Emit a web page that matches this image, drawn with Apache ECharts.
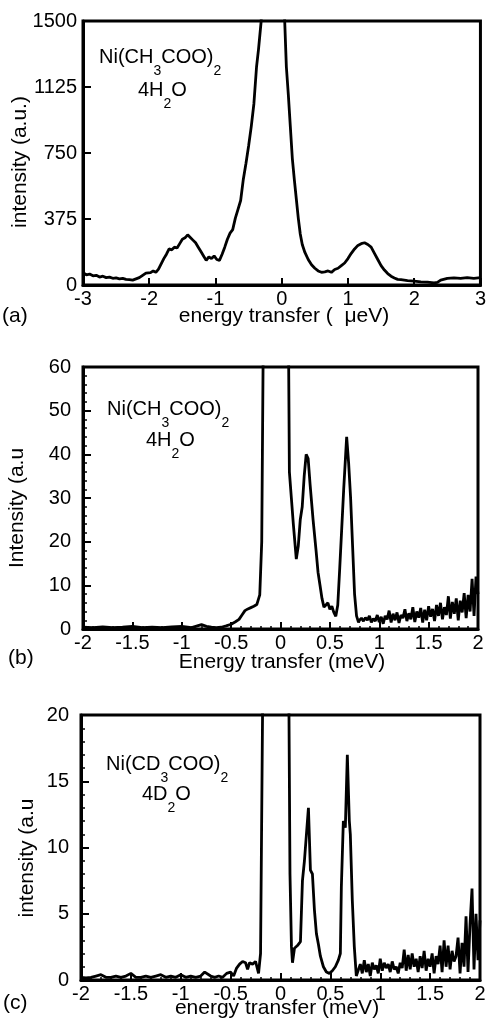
<!DOCTYPE html>
<html>
<head>
<meta charset="utf-8">
<script src="https://cdn.jsdelivr.net/npm/echarts@6/dist/echarts.min.js"></script>
<style>
html,body{margin:0;padding:0;background:#fff;}
#chart{width:489px;height:1019px;}
</style>
</head>
<body>
<div id="chart"></div>
<script>
// ---------- data ----------
// panel (a): energy transfer (µeV) vs intensity (a.u.)
var panelA_points = [
[-3.00,70],[-2.95,58],[-2.90,62],[-2.85,52],[-2.80,55],[-2.75,45],[-2.70,50],[-2.65,42],[-2.60,45],[-2.55,38],
[-2.50,40],[-2.45,35],[-2.40,38],[-2.35,32],[-2.30,30],[-2.25,28],[-2.20,35],[-2.15,42],[-2.10,55],[-2.05,68],
[-2.02,78],[-1.98,70],[-1.94,80],[-1.90,72],[-1.86,90],[-1.82,120],[-1.78,150],[-1.74,175],[-1.70,205],[-1.66,200],
[-1.62,215],[-1.58,210],[-1.54,235],[-1.50,260],[-1.46,268],[-1.42,285],[-1.38,270],[-1.34,255],[-1.30,240],[-1.26,215],
[-1.22,190],[-1.18,165],[-1.14,140],[-1.10,160],[-1.06,150],[-1.02,165],[-0.98,145],[-0.94,140],[-0.90,175],[-0.86,215],
[-0.82,260],[-0.78,295],[-0.74,315],[-0.70,380],[-0.66,430],[-0.62,480],[-0.58,600],[-0.54,690],[-0.50,790],[-0.46,900],
[-0.42,1030],[-0.38,1240],[-0.35,1340],[-0.31,1500],[-0.25,2100],[-0.15,2900],[-0.05,2700],[0.045,1500],[0.07,1240],[0.10,1080],
[0.13,900],[0.16,720],[0.19,600],[0.22,490],[0.25,380],[0.28,290],[0.31,230],[0.35,185],[0.40,145],[0.45,115],
[0.50,95],[0.55,80],[0.60,72],[0.65,75],[0.70,80],[0.75,72],[0.80,88],[0.85,95],[0.90,110],[0.95,125],
[1.00,150],[1.05,180],[1.10,205],[1.15,225],[1.20,235],[1.25,240],[1.30,230],[1.35,215],[1.40,180],[1.45,145],
[1.50,110],[1.55,85],[1.60,65],[1.65,50],[1.70,40],[1.75,32],[1.80,30],[1.90,25],[2.00,22],[2.10,18],
[2.20,16],[2.30,12],[2.35,15],[2.40,28],[2.50,38],[2.60,40],[2.70,38],[2.80,42],[2.90,38],[3.00,42]
];
// panel (b): Ni(CH3COO)2 4H2O, energy transfer (meV)
var panelB_points = [
[-2.00,0.4],[-1.90,0.3],[-1.80,0.5],[-1.70,0.3],[-1.60,0.4],[-1.50,0.6],[-1.40,0.3],[-1.30,0.4],[-1.20,0.3],[-1.10,0.5],
[-1.00,0.6],[-0.90,0.3],[-0.80,1.0],[-0.75,0.6],[-0.70,0.4],[-0.65,0.3],[-0.60,0.4],[-0.55,0.7],[-0.50,1.1],[-0.46,1.6],
[-0.42,2.2],[-0.39,3.2],[-0.36,4.2],[-0.33,4.6],[-0.30,4.9],[-0.27,5.2],[-0.24,5.6],[-0.21,7.8],[-0.19,20],[-0.17,80],
[-0.05,400],[0.05,300],[0.08,70],[0.09,36],[0.11,30],[0.13,24],[0.16,16],[0.18,19],[0.20,25],[0.22,28],
[0.24,35],[0.26,40],[0.28,39],[0.30,33],[0.33,25],[0.36,18],[0.38,13],[0.40,10],[0.42,7],[0.44,5],
[0.46,5.5],[0.48,6],[0.50,4.5],[0.52,5.2],[0.54,3.8],[0.56,2.9],[0.58,5.5],[0.60,14],[0.62,23],[0.64,32],
[0.66,40],[0.67,44],[0.69,38],[0.71,30],[0.73,19],[0.75,8],[0.77,3],[0.79,1.5],
[0.80,2.0],[0.82,2.5],[0.84,1.8],[0.86,2.6],[0.88,2.0],[0.90,3.0],[0.92,1.5],[0.94,2.4],[0.96,1.8],[0.98,3.2],
[1.00,1.6],[1.02,2.8],[1.04,1.2],[1.06,3.0],[1.08,2.2],[1.10,4.2],[1.12,1.5],[1.14,3.5],[1.16,2.0],[1.18,3.8],
[1.20,1.4],[1.22,3.2],[1.24,2.5],[1.26,4.5],[1.28,1.8],[1.30,3.6],[1.32,2.2],[1.34,5.0],[1.36,1.6],[1.38,4.0],
[1.40,2.6],[1.42,4.8],[1.44,1.5],[1.46,4.4],[1.48,2.0],[1.50,5.2],[1.52,2.8],[1.54,4.6],[1.56,1.8],[1.58,5.5],
[1.60,3.0],[1.62,6.0],[1.64,2.2],[1.66,5.0],[1.68,3.2],[1.70,7.5],[1.72,2.4],[1.74,6.2],[1.76,3.5],[1.78,7.0],
[1.80,2.0],[1.82,6.5],[1.84,3.8],[1.86,8.2],[1.88,2.5],[1.90,7.8],[1.92,4.0],[1.94,11.5],[1.96,3.0],[1.98,12.0],[2.00,8.0]
];
// panel (c): Ni(CD3COO)2 4D2O, energy transfer (meV)
var panelC_points = [
[-2.00,0.2],[-1.95,0.15],[-1.90,0.2],[-1.85,0.3],[-1.80,0.4],[-1.75,0.2],[-1.70,0.2],[-1.65,0.3],[-1.60,0.2],[-1.55,0.3],
[-1.50,0.5],[-1.45,0.2],[-1.40,0.2],[-1.35,0.3],[-1.30,0.2],[-1.25,0.3],[-1.20,0.4],[-1.15,0.2],[-1.10,0.3],[-1.05,0.2],
[-1.00,0.4],[-0.95,0.2],[-0.90,0.3],[-0.85,0.2],[-0.80,0.3],[-0.76,0.6],[-0.74,0.7],[-0.70,0.3],[-0.66,0.2],[-0.62,0.3],
[-0.58,0.2],[-0.54,0.5],[-0.50,0.6],[-0.47,0.3],[-0.44,0.9],[-0.41,1.2],[-0.38,1.4],[-0.35,1.3],[-0.33,0.8],[-0.31,1.3],
[-0.28,1.2],[-0.25,1.4],[-0.22,0.5],[-0.20,2],[-0.18,20],[-0.16,60],[0.0,200],[0.07,50],[0.085,20],[0.095,8],
[0.11,2.5],[0.12,1.3],[0.14,2.4],[0.17,2.6],[0.20,2.9],[0.22,7.5],[0.24,9],[0.26,11],[0.28,13],[0.30,8.3],
[0.32,8],[0.34,5.3],[0.36,3.5],[0.38,2.7],[0.40,1.8],[0.43,1.0],[0.46,0.6],[0.49,0.5],[0.52,0.7],[0.55,1.0],
[0.58,1.5],[0.60,2.0],[0.61,7],[0.63,12],[0.65,11.5],[0.67,17],[0.69,12],[0.70,11],[0.72,6],[0.74,2.5],[0.76,0.3],
[0.78,0.4],[0.80,1.2],[0.82,0.5],[0.84,1.5],[0.86,0.6],[0.88,1.2],[0.90,0.3],[0.92,1.3],[0.94,0.8],[0.96,1.1],
[0.98,0.5],[1.00,1.6],[1.02,0.7],[1.04,1.3],[1.06,0.9],[1.08,1.2],[1.10,0.6],[1.12,1.4],[1.14,0.8],[1.16,1.0],
[1.18,0.5],[1.20,1.3],[1.22,0.9],[1.24,2.3],[1.26,0.7],[1.28,1.9],[1.30,0.8],[1.32,2.0],[1.34,1.0],[1.36,1.6],
[1.38,0.6],[1.40,1.8],[1.42,0.9],[1.44,2.2],[1.46,0.7],[1.48,1.6],[1.50,1.0],[1.52,2.0],[1.54,0.5],[1.56,1.8],
[1.58,1.2],[1.60,2.6],[1.62,0.6],[1.64,3.0],[1.66,1.0],[1.68,2.6],[1.70,0.8],[1.72,2.2],[1.74,1.4],[1.76,1.8],
[1.78,3.2],[1.80,0.5],[1.82,2.8],[1.84,1.0],[1.86,4.8],[1.88,0.6],[1.90,4.2],[1.92,6.9],[1.94,0.8],[1.96,5.0],
[1.98,1.5],[2.00,4.5]
];
// axis ranges / tick steps
var axisA = {xMin:-3, xMax:3, xStep:1, yMin:0, yMax:1500, yStep:375};
var axisB = {xMin:-2, xMax:2, xStep:0.5, yMin:0, yMax:60, yStep:10};
var axisC = {xMin:-2, xMax:2, xStep:0.5, yMin:0, yMax:20, yStep:5};
// texts
var xTitles = ['energy transfer (  \u03bceV)', 'Energy transfer (meV)', 'energy transfer (meV)'];
var yTitles = ['intensity (a.u.)', 'Intensity (a.u', 'intensity (a.u'];
var panelTags = ['(a)', '(b)', '(c)'];
var compoundLines = [
  ['{a|Ni(CH}{s|3}{a|COO)}{s|2}', '{a|4H}{s|2}{a|O}'],
  ['{a|Ni(CH}{s|3}{a|COO)}{s|2}', '{a|4H}{s|2}{a|O}'],
  ['{a|Ni(CD}{s|3}{a|COO)}{s|2}', '{a|4D}{s|2}{a|O}']
];

// ---------- chart ----------
var FONT = '"Liberation Sans", Arial, Helvetica, sans-serif';
var chart = echarts.init(document.getElementById('chart'), null, {renderer:'canvas'});

var grids = [
  {left:83, top:21, width:398, height:264},
  {left:83, top:367, width:395, height:262},
  {left:81, top:715, width:399, height:265}
];
var axes = [axisA, axisB, axisC];
var minors = [false, true, true];
var yLabelMargin = [6, 12, 12];

function plain(v){ return String(v); }

function xAxisCfg(i){
  var a = axes[i];
  return {
    type:'value', gridIndex:i, min:a.xMin, max:a.xMax, interval:a.xStep,
    axisLine:{show:true, onZero:false, lineStyle:{color:'#000', width:3}},
    axisTick:{show:true, inside:true, length:7, lineStyle:{color:'#000', width:2}},
    minorTick:{show:minors[i], splitNumber:5, length:3, lineStyle:{color:'#000', width:1.5}},
    splitLine:{show:false},
    axisLabel:{color:'#000', fontFamily:FONT, fontSize:20, margin:4, formatter:plain}
  };
}
function yAxisCfg(i){
  var a = axes[i];
  return {
    type:'value', gridIndex:i, min:a.yMin, max:a.yMax, interval:a.yStep,
    axisLine:{show:true, onZero:false, lineStyle:{color:'#000', width:3}},
    axisTick:{show:true, inside:true, length:8, lineStyle:{color:'#000', width:2}},
    minorTick:{show:minors[i], splitNumber:5, length:4, lineStyle:{color:'#000', width:1.5}},
    splitLine:{show:false},
    axisLabel:{color:'#000', fontFamily:FONT, fontSize:20, margin:yLabelMargin[i], formatter:plain}
  };
}

var seriesData = [panelA_points, panelB_points, panelC_points];
var series = seriesData.map(function(d, i){
  return {
    type:'line', xAxisIndex:i, yAxisIndex:i, data:d,
    showSymbol:false, symbol:'none', clip:true, animation:false,
    lineStyle:{color:'#000', width:2.8}
  };
});

function txt(x, y, text, opts){
  opts = opts || {};
  return {
    type:'text', x:x, y:y, rotation:opts.rotation || 0, z:100,
    style:{
      text:text, fill:'#000', font: (opts.size||21) + 'px ' + FONT,
      align:opts.align||'center', verticalAlign:opts.valign||'middle',
      textAlign:opts.align||'center', textVerticalAlign:opts.valign||'middle'
    }
  };
}
var richStyle = {
  a:{fontSize:20, fontFamily:FONT, color:'#000', lineHeight:20, verticalAlign:'top'},
  s:{fontSize:14, fontFamily:FONT, color:'#000', lineHeight:14, verticalAlign:'top', padding:[17,0,0,0]}
};
function rich(x, y, text){
  return {
    type:'text', x:x, y:y, z:100,
    style:{text:text, rich:richStyle, fill:'#000', font:'20px ' + FONT,
      align:'left', verticalAlign:'top', textAlign:'left', textVerticalAlign:'top'}
  };
}

var graphics = [
  // panel tags
  txt(2, 316, panelTags[0], {align:'left'}),
  txt(8, 658, panelTags[1], {align:'left'}),
  txt(3, 1003, panelTags[2], {align:'left'}),
  // x titles
  txt(284, 316, xTitles[0]),
  txt(282, 662, xTitles[1]),
  txt(277, 1008, xTitles[2]),
  // y titles
  txt(20, 162, yTitles[0], {rotation:Math.PI/2}),
  txt(17, 508, yTitles[1], {rotation:Math.PI/2}),
  txt(27, 858, yTitles[2], {rotation:Math.PI/2}),
  // compound labels
  rich(99, 47, compoundLines[0][0]),
  rich(138, 80, compoundLines[0][1]),
  rich(107, 399, compoundLines[1][0]),
  rich(146, 430, compoundLines[1][1]),
  rich(106, 754, compoundLines[2][0]),
  rich(142, 784, compoundLines[2][1])
];

chart.setOption({
  animation:false,
  backgroundColor:'#fff',
  grid: grids.map(function(g){ return Object.assign({show:true, borderColor:'#000', borderWidth:3, backgroundColor:'transparent', containLabel:false}, g); }),
  xAxis: [0,1,2].map(xAxisCfg),
  yAxis: [0,1,2].map(yAxisCfg),
  series: series,
  graphic: graphics
});
</script>
</body>
</html>
